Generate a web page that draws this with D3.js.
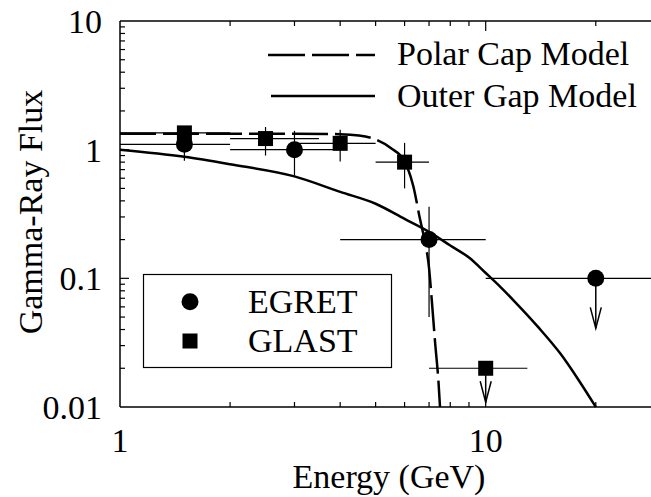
<!DOCTYPE html>
<html><head><meta charset="utf-8">
<script src="https://cdn.jsdelivr.net/npm/d3@7"></script>
<style>
html,body{margin:0;padding:0;background:#fff;}
text{font-family:"Liberation Serif","Times New Roman",serif;fill:#000;}
</style></head>
<body><svg id="c" width="651" height="497"></svg>
<script>
// ---- data ----
const egretE    = [1.5, 3.0, 7.0, 20.0];
const egretF    = [1.1, 1.0, 0.2, 0.1];
const egretElo  = [1.0, 2.0, 4.0, 10.0];
const egretEhi  = [2.0, 4.0, 10.0, 30.0];
const egretFlo  = [0.82, 0.63, 0.05, null];
const egretFhi  = [1.3, 1.4, 0.36, null];
const egretUL   = [false, false, false, true];

const glastE    = [1.5, 2.5, 4.0, 6.0, 10.0];
const glastF    = [1.35, 1.22, 1.12, 0.8, 0.02];
const glastElo  = [1.0, 2.0, 3.0, 5.0, 7.0];
const glastEhi  = [2.0, 3.5, 5.0, 7.0, 13.0];
const glastFlo  = [1.2, 0.9, 0.81, 0.5, null];
const glastFhi  = [1.5, 1.5, 1.43, 1.13, null];
const glastUL   = [false, false, false, false, true];

const polarE = [1, 2, 3, 4, 4.5, 5, 5.5, 6.0, 6.34, 6.61, 6.8, 7.0, 7.12, 7.27, 7.43, 7.5];
const polarF = [1.33, 1.33, 1.33, 1.32, 1.29, 1.2, 1.03, 0.81, 0.52, 0.29, 0.2, 0.12, 0.068, 0.032, 0.0155, 0.01];

const outerE = [1, 1.5, 2, 3, 4, 5, 6, 7, 8, 9, 10, 11, 12, 14, 16, 18, 20];
const outerF = [1.0, 0.88, 0.77, 0.62, 0.47, 0.38, 0.29, 0.23, 0.18, 0.145, 0.11, 0.085, 0.066, 0.041, 0.026, 0.016, 0.01];

const xTickLabels = [1, 10];
const yTickLabels = [0.01, 0.1, 1, 10];
const yTickText   = ["0.01", "0.1", "1", "10"];
const curveNames  = ["Polar Cap Model", "Outer Gap Model"];
const seriesNames = ["EGRET", "GLAST"];

// ---- layout ----
const svg = d3.select("#c");
const L = 120, T = 21, B = 407;
const decade = 365.7;
const FS = 34;
const x = d3.scaleLog().domain([1, 30]).range([L, L + decade * Math.log10(30)]);
const y = d3.scaleLog().domain([0.01, 10]).range([B, T]);
const R = x.range()[1];

// frame
svg.append("line").attr("x1", L).attr("x2", R).attr("y1", T).attr("y2", T).attr("stroke", "#000").attr("stroke-width", 1.5);
svg.append("line").attr("x1", L).attr("x2", R).attr("y1", B).attr("y2", B).attr("stroke", "#000").attr("stroke-width", 1.5);
svg.append("line").attr("x1", L).attr("x2", L).attr("y1", T).attr("y2", B).attr("stroke", "#000").attr("stroke-width", 1.5);

// ticks
const xMinor = [], yMinor = [];
[1, 10].forEach(d => { for (let k = 2; k <= 9; k++) if (d * k <= 30) xMinor.push(d * k); });
[0.01, 0.1, 1].forEach(d => { for (let k = 2; k <= 9; k++) yMinor.push(d * k); });
const tk = svg.append("g").attr("stroke", "#000").attr("stroke-width", 1.2);
xMinor.forEach(v => {
  tk.append("line").attr("x1", x(v)).attr("x2", x(v)).attr("y1", B).attr("y2", B - 5);
  tk.append("line").attr("x1", x(v)).attr("x2", x(v)).attr("y1", T).attr("y2", T + 5);
});
[10].forEach(v => {
  tk.append("line").attr("x1", x(v)).attr("x2", x(v)).attr("y1", B).attr("y2", B - 10);
  tk.append("line").attr("x1", x(v)).attr("x2", x(v)).attr("y1", T).attr("y2", T + 10);
});
yMinor.forEach(v => tk.append("line").attr("x1", L).attr("x2", L + 5).attr("y1", y(v)).attr("y2", y(v)));
[0.1, 1].forEach(v => tk.append("line").attr("x1", L).attr("x2", L + 9).attr("y1", y(v)).attr("y2", y(v)));

// tick labels
yTickLabels.forEach((v, i) => svg.append("text").attr("x", 102).attr("y", y(v)).attr("dy", "0.35em")
  .attr("text-anchor", "end").attr("font-size", FS).text(yTickText[i]));
xTickLabels.forEach(v => svg.append("text").attr("x", x(v)).attr("y", 452)
  .attr("text-anchor", "middle").attr("font-size", FS).text(v));

// axis titles
svg.append("text").attr("x", 389).attr("y", 488).attr("text-anchor", "middle").attr("font-size", FS).text("Energy (GeV)");
svg.append("text").attr("transform", "translate(42,212) rotate(-90)").attr("text-anchor", "middle").attr("font-size", FS).text("Gamma-Ray Flux");

// curves
const line = d3.line().x(d => x(d[0])).y(d => y(d[1])).curve(d3.curveMonotoneX);
svg.append("path").datum(polarE.map((e, i) => [e, polarF[i]])).attr("d", line)
  .attr("fill", "none").attr("stroke", "#000").attr("stroke-width", 2.5).attr("stroke-dasharray", "36,7");
svg.append("path").datum(outerE.map((e, i) => [e, outerF[i]])).attr("d", line)
  .attr("fill", "none").attr("stroke", "#000").attr("stroke-width", 2.5);

// error bars + markers
function drawSeries(E, F, Elo, Ehi, Flo, Fhi, UL, shape) {
  const g = svg.append("g");
  E.forEach((e, i) => {
    g.append("line").attr("x1", x(Elo[i])).attr("x2", x(Ehi[i])).attr("y1", y(F[i])).attr("y2", y(F[i]))
      .attr("stroke", "#000").attr("stroke-width", 1.2);
    if (UL[i]) {
      const yb = y(F[i]) + (shape === "circle" ? 50 : 34);
      g.append("line").attr("x1", x(e)).attr("x2", x(e)).attr("y1", y(F[i])).attr("y2", yb).attr("stroke", "#000").attr("stroke-width", 1.5);
      g.append("path").attr("d", `M${x(e) - 5.5},${yb - 21}L${x(e)},${yb}L${x(e) + 5.5},${yb - 21}`)
        .attr("fill", "none").attr("stroke", "#000").attr("stroke-width", 1.5);
    } else {
      g.append("line").attr("x1", x(e)).attr("x2", x(e)).attr("y1", y(Flo[i])).attr("y2", y(Fhi[i]))
        .attr("stroke", "#000").attr("stroke-width", 1.2);
    }
    if (shape === "circle") g.append("circle").attr("cx", x(e)).attr("cy", y(F[i])).attr("r", 8.5).attr("fill", "#000");
    else g.append("rect").attr("x", x(e) - 7.5).attr("y", y(F[i]) - 7.5).attr("width", 15).attr("height", 15).attr("fill", "#000");
  });
}
drawSeries(glastE, glastF, glastElo, glastEhi, glastFlo, glastFhi, glastUL, "square");
drawSeries(egretE, egretF, egretElo, egretEhi, egretFlo, egretFhi, egretUL, "circle");

// legend (curves)
svg.append("line").attr("x1", 268).attr("x2", 375).attr("y1", 55).attr("y2", 55).attr("stroke", "#000").attr("stroke-width", 2.5).attr("stroke-dasharray", "37,7");
svg.append("line").attr("x1", 271).attr("x2", 375).attr("y1", 96).attr("y2", 96).attr("stroke", "#000").attr("stroke-width", 2.5);
svg.append("text").attr("x", 397).attr("y", 65).attr("font-size", FS).text(curveNames[0]);
svg.append("text").attr("x", 397).attr("y", 107).attr("font-size", FS).text(curveNames[1]);

// legend box (series)
svg.append("rect").attr("x", 143.5).attr("y", 274.5).attr("width", 248).attr("height", 93).attr("fill", "#fff").attr("stroke", "#000").attr("stroke-width", 1.2);
svg.append("circle").attr("cx", 190).attr("cy", 301.7).attr("r", 8.5).attr("fill", "#000");
svg.append("rect").attr("x", 182.5).attr("y", 333.5).attr("width", 15).attr("height", 15).attr("fill", "#000");
svg.append("text").attr("x", 248).attr("y", 313).attr("font-size", FS).text(seriesNames[0]);
svg.append("text").attr("x", 248).attr("y", 352).attr("font-size", FS).text(seriesNames[1]);
</script></body></html>
